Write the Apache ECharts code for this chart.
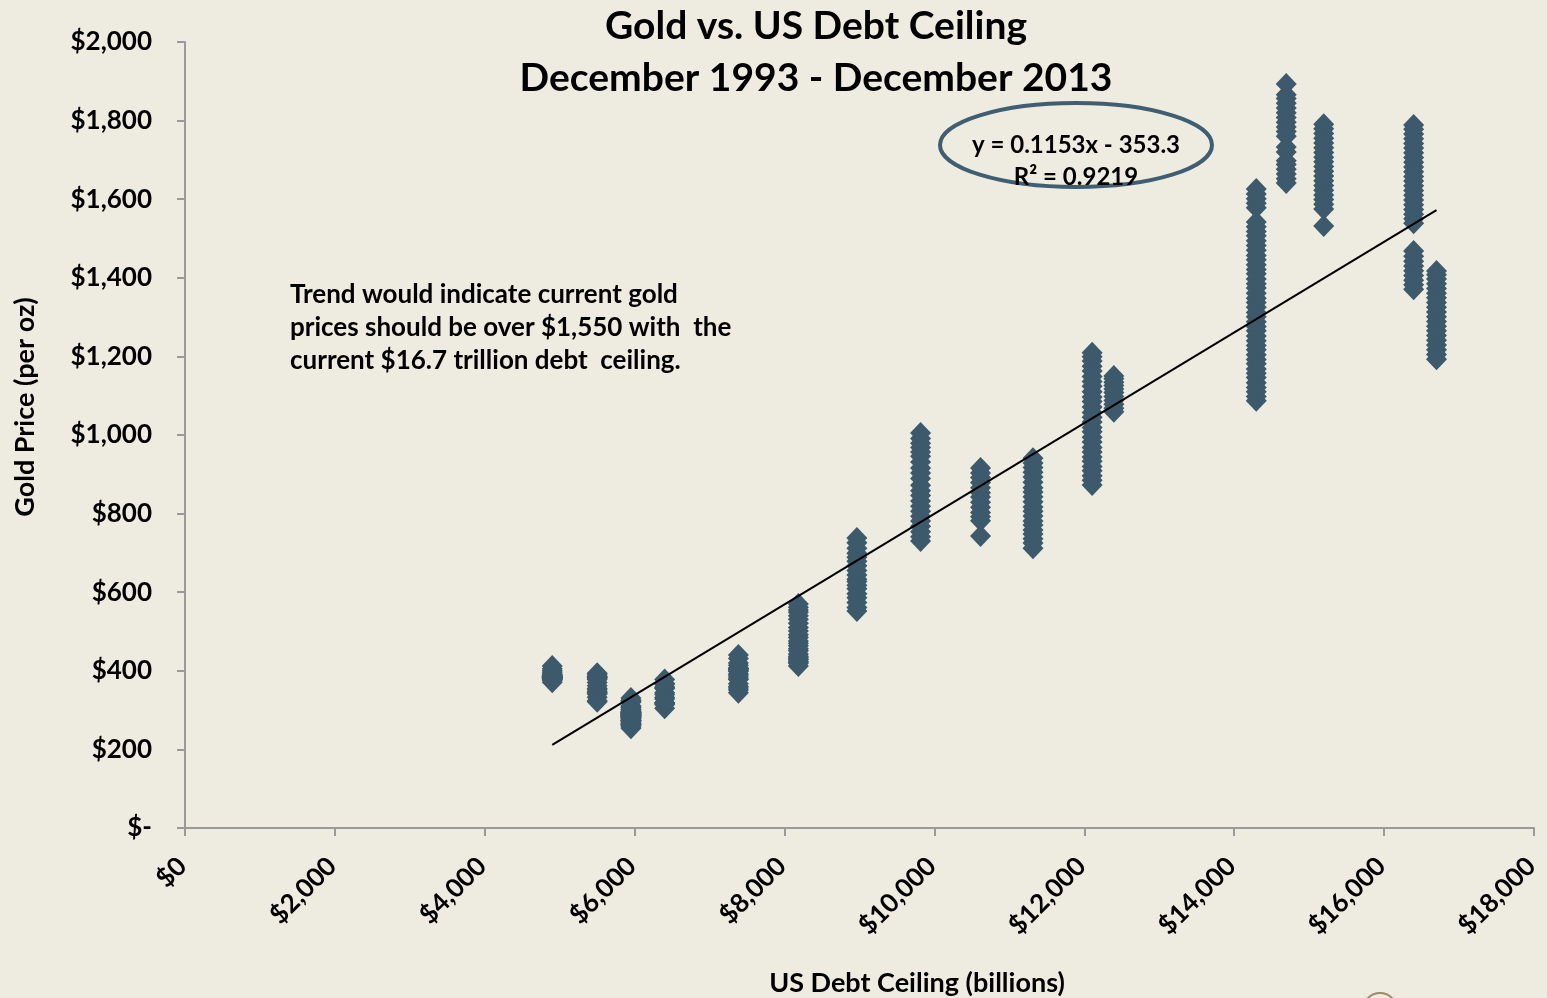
<!DOCTYPE html>
<html>
<head>
<meta charset="utf-8">
<title>Gold vs. US Debt Ceiling</title>
<script src="https://cdn.jsdelivr.net/npm/echarts@6/dist/echarts.min.js"></script>
<style>
  html, body { margin: 0; padding: 0; background: #EEEBE1; }
  #chart { width: 1547px; height: 998px; }
</style>
</head>
<body>
<div id="chart"></div>
<script>
// Statutory debt ceiling levels (billions of USD), one per period
const ceilings = [4900, 5500, 5950, 6400, 7384, 8184, 8965, 9815, 10615, 11315, 12104, 12394, 14294, 14694, 15194, 16394, 16699];

// Gold prices ($/oz) observed while each ceiling was in force
const gold4900  = [383, 387, 382, 384, 377, 381, 385, 385, 380, 391, 389, 384, 379, 379, 376, 382, 391, 385, 387, 386, 383, 383, 383, 386, 387, 400, 405, 396, 371, 412];
const gold5500  = [394, 392, 385, 383, 387, 383, 381, 378, 370, 362, 355, 347, 352, 344, 343, 341, 333, 324, 321];
const gold5950  = [324, 323, 325, 306, 289, 289, 297, 295, 308, 300, 293, 293, 288, 273, 290, 296, 294, 291, 287, 286, 285, 282, 279, 262, 257, 254, 264, 311, 300, 292, 291, 284, 289, 288, 283, 288, 279, 274, 272, 276, 281, 272, 264, 267, 262, 260, 263, 272, 265, 268, 273, 274, 278, 283, 293, 282, 283, 286, 295, 294, 302, 308, 320, 331];
const gold6400  = [314, 305, 319, 317, 319, 332, 344, 356, 359, 368, 378, 340, 328, 355, 366];
const gold7384  = [356, 344, 351, 360, 367, 379, 378, 389, 407, 414, 405, 406, 404, 384, 392, 398, 401, 405, 420, 431, 440];
const gold8184  = [443, 424, 412, 419, 434, 429, 422, 430, 437, 451, 456, 464, 470, 476, 485, 492, 501, 510, 521, 531, 540, 549, 555, 562, 570];
const gold8965  = [552, 561, 574, 586, 596, 609, 618, 627, 633, 644, 655, 667, 679, 689, 699, 712, 726, 738];
const gold9815  = [730, 741, 754, 768, 781, 793, 806, 819, 832, 846, 858, 872, 889, 903, 916, 931, 946, 957, 968, 979, 991, 1005];
const gold10615 = [916, 903, 892, 879, 866, 853, 842, 829, 816, 803, 792, 782, 743];
const gold11315 = [712, 725, 736, 748, 758, 771, 781, 794, 806, 817, 830, 843, 855, 866, 880, 893, 905, 917, 929, 941];
const gold12104 = [873, 885, 896, 909, 920, 933, 944, 957, 968, 982, 994, 1008, 1019, 1033, 1045, 1057, 1071, 1085, 1097, 1110, 1124, 1136, 1149, 1163, 1175, 1188, 1199, 1209];
const gold12394 = [1150, 1143, 1134, 1126, 1117, 1108, 1098, 1088, 1078, 1068, 1059];
const gold14294 = [1087, 1098, 1110, 1121, 1133, 1146, 1157, 1168, 1181, 1192, 1204, 1217, 1228, 1240, 1252, 1265, 1276, 1288, 1301, 1312, 1325, 1337, 1348, 1361, 1374, 1385, 1397, 1410, 1421, 1433, 1446, 1457, 1470, 1482, 1494, 1507, 1518, 1530, 1542, 1578, 1590, 1601, 1613, 1626];
const gold14694 = [1893, 1866, 1856, 1844, 1832, 1820, 1808, 1796, 1784, 1772, 1760, 1733, 1720, 1698, 1688, 1676, 1664, 1652, 1641];
const gold15194 = [1791, 1779, 1767, 1755, 1743, 1731, 1719, 1707, 1695, 1683, 1671, 1659, 1647, 1635, 1623, 1611, 1599, 1587, 1575, 1532];
const gold16394 = [1789, 1778, 1766, 1754, 1742, 1730, 1718, 1706, 1694, 1682, 1670, 1658, 1646, 1634, 1622, 1610, 1598, 1586, 1574, 1562, 1550, 1539, 1468, 1455, 1442, 1430, 1418, 1406, 1394, 1382, 1371];
const gold16699 = [1417, 1408, 1397, 1385, 1373, 1361, 1349, 1337, 1325, 1313, 1301, 1289, 1277, 1265, 1253, 1241, 1229, 1217, 1205, 1193];

const goldByCeiling = [gold4900, gold5500, gold5950, gold6400, gold7384, gold8184, gold8965, gold9815, gold10615, gold11315, gold12104, gold12394, gold14294, gold14694, gold15194, gold16394, gold16699];

// Linear fit reported on the chart: y = 0.1153x - 353.3
const trendSlope = 0.1153;
const trendIntercept = -353.3;
const trendRange = [4900, 16699];

// Axis tick values
const xTicks = [0, 2000, 4000, 6000, 8000, 10000, 12000, 14000, 16000, 18000];
const yTicks = [0, 200, 400, 600, 800, 1000, 1200, 1400, 1600, 1800, 2000];

const points = [];
ceilings.forEach(function (c, i) {
  goldByCeiling[i].forEach(function (g) { points.push([c, g]); });
});
const trendPoints = trendRange.map(function (x) { return [x, trendSlope * x + trendIntercept]; });

function money(v) {
  return v === 0 ? '$-' : '$' + v.toLocaleString('en-US');
}

const FONT = 'Lato, "Open Sans", sans-serif';
const chart = echarts.init(document.getElementById('chart'));

chart.setOption({
  backgroundColor: '#EEEBE1',
  animation: false,
  textStyle: { fontFamily: FONT },
  title: {
    text: 'Gold vs. US Debt Ceiling\nDecember 1993 - December 2013',
    left: 811,
    textAlign: 'center',
    top: -5,
    textStyle: { fontFamily: FONT, fontSize: 39, fontWeight: 'bold', color: '#000', lineHeight: 52 }
  },
  grid: { left: 185, right: 13, top: 42, bottom: 170, containLabel: false, outerBoundsMode: 'none' },
  xAxis: {
    type: 'value',
    min: xTicks[0],
    max: xTicks[xTicks.length - 1],
    interval: 2000,
    axisLine: { show: true, onZero: false, lineStyle: { color: '#9A9A9A', width: 2 } },
    axisTick: { show: true, length: 8, lineStyle: { color: '#9A9A9A', width: 2 } },
    splitLine: { show: false },
    axisLabel: {
      rotate: 45,
      margin: 31,
      padding: [0, 4, 0, 0],
      fontFamily: FONT,
      fontSize: 26,
      fontWeight: 'bold',
      color: '#000',
      formatter: function (v) { return '$' + v.toLocaleString('en-US'); }
    }
  },
  yAxis: {
    type: 'value',
    min: yTicks[0],
    max: yTicks[yTicks.length - 1],
    interval: 200,
    axisLine: { show: true, lineStyle: { color: '#9A9A9A', width: 2 } },
    axisTick: { show: true, length: 8, lineStyle: { color: '#9A9A9A', width: 2 } },
    splitLine: { show: false },
    axisLabel: {
      margin: 33,
      fontFamily: FONT,
      fontSize: 26,
      fontWeight: 'bold',
      color: '#000',
      formatter: money
    }
  },
  series: [
    {
      name: 'Gold',
      type: 'scatter',
      symbol: 'diamond',
      symbolSize: [21, 22],
      itemStyle: { color: '#3D596C', opacity: 1 },
      data: points,
      z: 2
    },
    {
      name: 'Trend',
      type: 'line',
      data: trendPoints,
      showSymbol: false,
      symbol: 'none',
      lineStyle: { color: '#000', width: 2 },
      z: 3
    }
  ],
  graphic: [
    // axis titles
    {
      type: 'text',
      x: 917, y: 983,
      style: {
        text: 'US Debt Ceiling (billions)',
        fontFamily: FONT, fontSize: 27, fontWeight: 'bold', fill: '#000',
        align: 'center', verticalAlign: 'middle'
      }
    },
    {
      type: 'text',
      x: 25, y: 407,
      rotation: Math.PI / 2,
      style: {
        text: 'Gold Price (per oz)',
        fontFamily: FONT, fontSize: 27, fontWeight: 'bold', fill: '#000',
        align: 'center', verticalAlign: 'middle'
      }
    },
    // regression callout
    {
      type: 'ellipse',
      shape: { cx: 1076, cy: 145, rx: 136, ry: 42 },
      style: { fill: 'none', stroke: '#3F5E72', lineWidth: 4 },
      z: 10
    },
    {
      type: 'text',
      x: 1076, y: 161,
      style: {
        text: 'y = 0.1153x - 353.3\nR² = 0.9219',
        fontFamily: FONT, fontSize: 24, fontWeight: 'bold', fill: '#000',
        align: 'center', verticalAlign: 'middle', lineHeight: 32
      },
      z: 11
    },
    {
      type: 'text',
      x: 290, y: 278,
      style: {
        text: 'Trend would indicate current gold\nprices should be over $1,550 with  the\ncurrent $16.7 trillion debt  ceiling.',
        fontFamily: FONT, fontSize: 26, fontWeight: 'bold', fill: '#000',
        align: 'left', verticalAlign: 'top', lineHeight: 33
      },
      z: 11
    },
    {
      type: 'circle',
      shape: { cx: 1380, cy: 1010, r: 17 },
      style: { fill: 'none', stroke: '#9C8B66', lineWidth: 2 },
      z: 10
    }
  ]
});
</script>
</body>
</html>
